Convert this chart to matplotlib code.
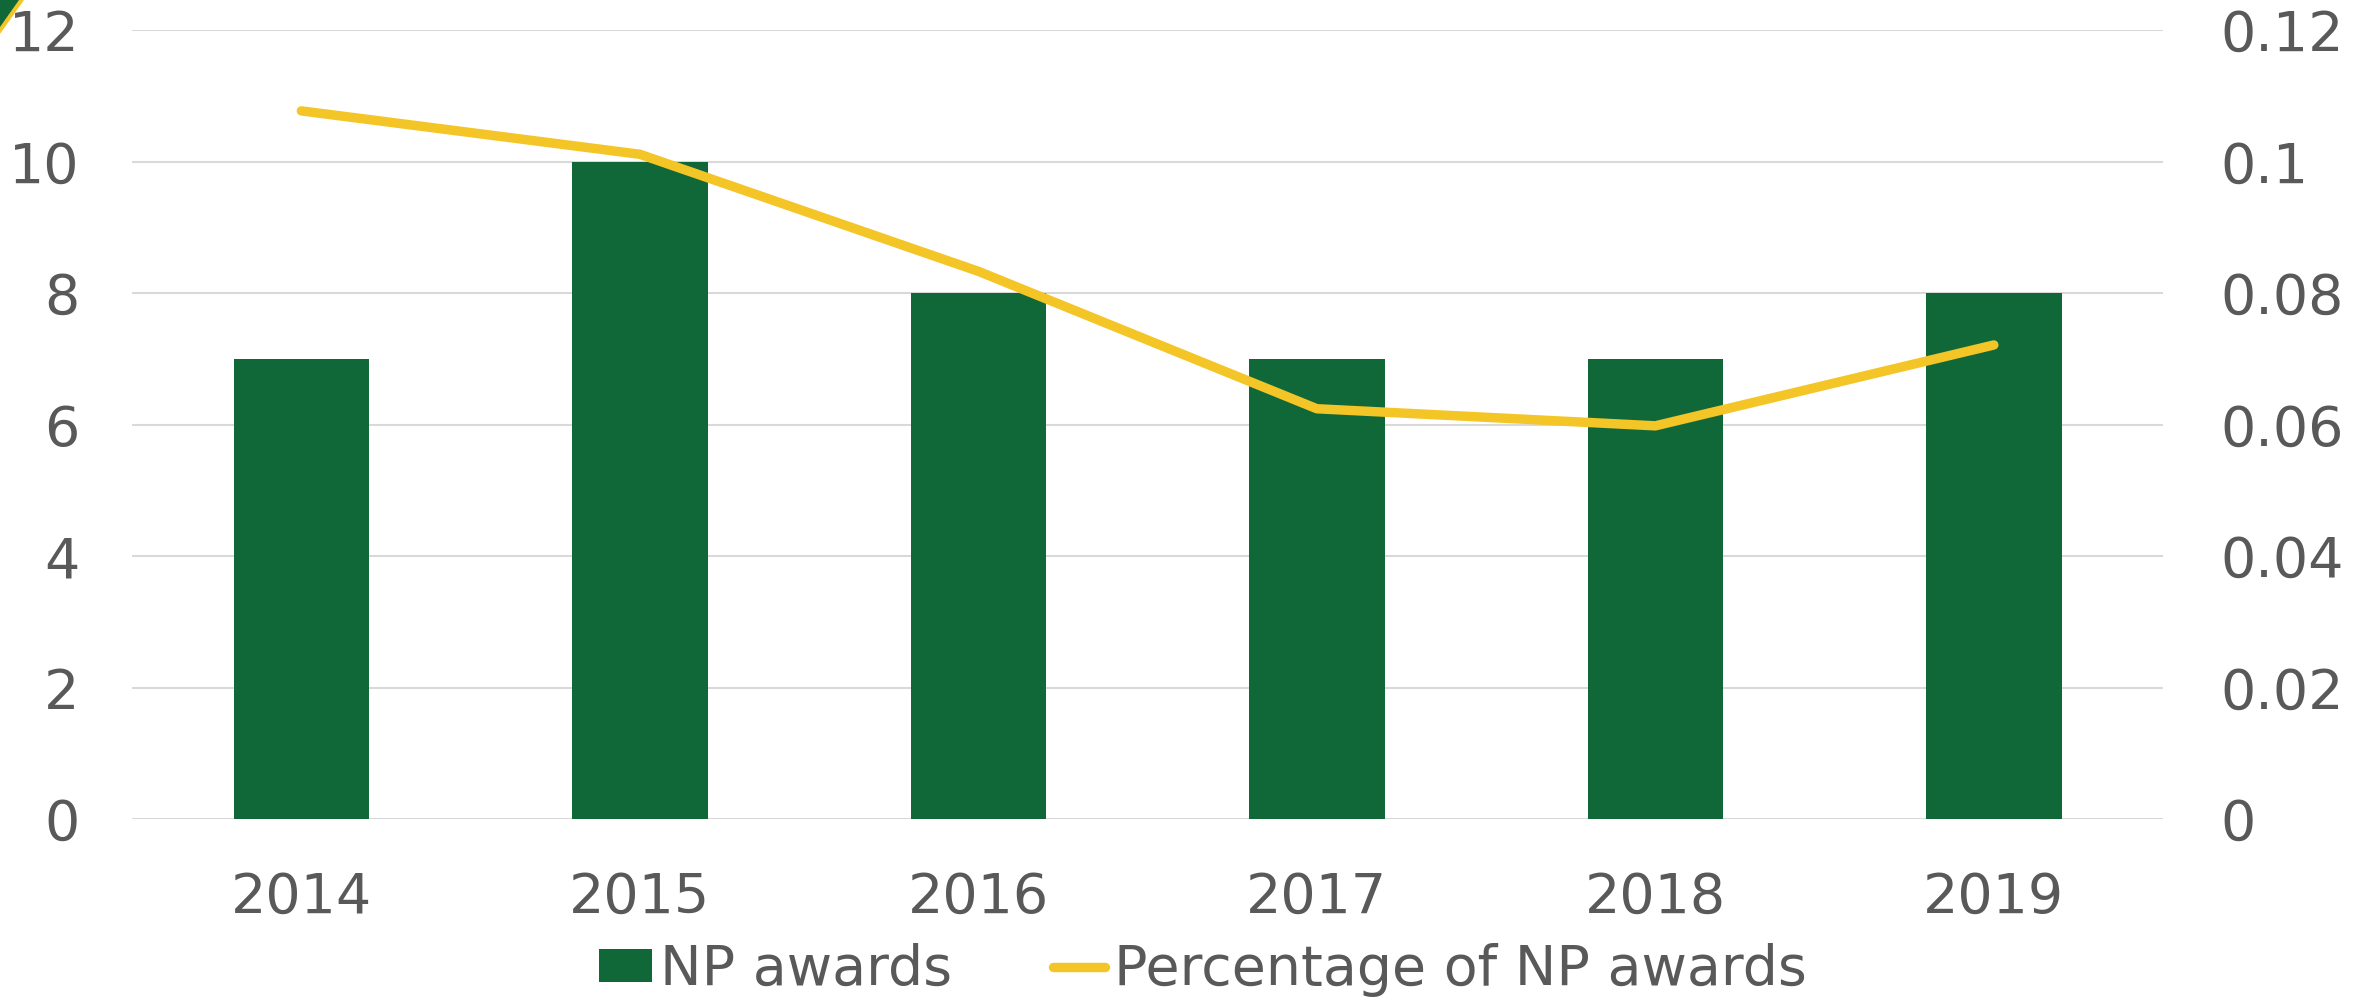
import matplotlib.pyplot as plt
from matplotlib.patches import Polygon
from matplotlib.ticker import FuncFormatter

years = ["2014", "2015", "2016", "2017", "2018", "2019"]
np_awards = [7, 10, 8, 7, 7, 8]
pct_np_awards = [0.1077, 0.1011, 0.0833, 0.0624, 0.0598, 0.0721]

GREEN = "#106838"
YELLOW = "#F4C526"
TEXT = "#595959"
GRID = "#D9D9D9"

fig = plt.figure(figsize=(23.76, 9.97), dpi=100)
ax = fig.add_axes([0.0556, 0.1785, 0.8548, 0.7914])
ax2 = ax.twinx()

x = list(range(len(years)))
bars = ax.bar(x, np_awards, width=0.4, color=GREEN, label="NP awards", zorder=2)
line, = ax2.plot(x, pct_np_awards, color=YELLOW, lw=6.8, solid_capstyle="round",
                 solid_joinstyle="round", label="Percentage of NP awards", zorder=3)

ax.set_xlim(-0.5, len(years) - 0.5)
ax.set_ylim(0, 12)
ax.set_yticks(range(0, 13, 2))
ax2.set_ylim(0, 0.12)
ax2.set_yticks([0, 0.02, 0.04, 0.06, 0.08, 0.10, 0.12])
ax2.yaxis.set_major_formatter(FuncFormatter(lambda v, p: f"{v:g}"))
ax.set_xticks(x)
ax.set_xticklabels(years)

ax.grid(axis="y", color=GRID, lw=1.5, zorder=0)
ax.set_axisbelow(True)
for a in (ax, ax2):
    for s in a.spines.values():
        s.set_visible(False)
ax.tick_params(axis="y", length=0, pad=38, labelsize=40, labelcolor=TEXT)
ax.tick_params(axis="x", length=0, pad=37, labelsize=40, labelcolor=TEXT)
ax2.tick_params(axis="y", length=0, pad=41, labelsize=40, labelcolor=TEXT)

fig.legend([bars, line], ["NP awards", "Percentage of NP awards"], loc="center",
           bbox_to_anchor=(0.5063, 0.027), ncol=2, frameon=False, fontsize=40,
           labelcolor=TEXT, handlelength=0.95, handleheight=0.56, handletextpad=0.16,
           columnspacing=1.8, borderaxespad=0, borderpad=0)

# corner decoration
W, H = 2376, 997
fig.patches.append(Polygon([(0, 1), (24 / W, 1), (0, 1 - 34 / H)], closed=True,
                           transform=fig.transFigure, color=YELLOW, lw=0))
fig.patches.append(Polygon([(0, 1), (19 / W, 1), (0, 1 - 27 / H)], closed=True,
                           transform=fig.transFigure, color=GREEN, lw=0))

fig.savefig("out.png", dpi=100)
